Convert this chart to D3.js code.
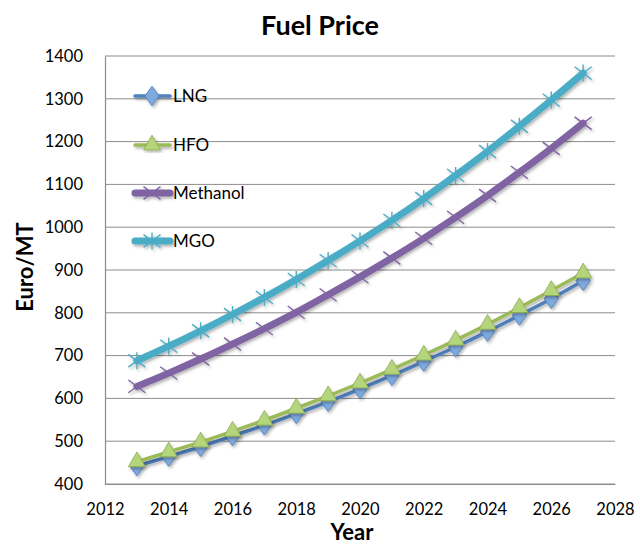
<!DOCTYPE html>
<html>
<head>
<meta charset="utf-8">
<script src="https://d3js.org/d3.v7.min.js"></script>
<title>Fuel Price</title>
<style>
  body { margin: 0; background: #fff; }
  text { font-family: Lato, "Open Sans", sans-serif; fill: #000; }
</style>
</head>
<body>
<div id="chart"></div>
<script type="text/javascript">

// data
var years = [2013, 2014, 2015, 2016, 2017, 2018, 2019, 2020, 2021, 2022, 2023, 2024, 2025, 2026, 2027];
var lng      = [442, 464, 487, 512, 537, 564, 592, 622, 653, 686, 720, 756, 794, 833, 875];
var hfo      = [452, 475, 498, 523, 549, 577, 606, 636, 668, 701, 736, 773, 812, 852, 893];
var methanol = [628, 659, 692, 727, 763, 801, 842, 884, 928, 974, 1023, 1074, 1128, 1184, 1243];
var mgo      = [688, 722, 758, 796, 836, 878, 922, 968, 1016, 1067, 1121, 1177, 1236, 1297, 1360];
var seriesNames = ["LNG", "HFO", "Methanol", "MGO"];
var xTicks = [2012, 2014, 2016, 2018, 2020, 2022, 2024, 2026, 2028];
var yTicks = [400, 500, 600, 700, 800, 900, 1000, 1100, 1200, 1300, 1400];

var width = 640, height = 545;
var plotLeft = 105, plotRight = 615, plotTop = 56, plotBottom = 484;

var series = [
  {name: "LNG", values: lng, color: "#4f81bd", fill: "#7ea9de", width: 3.5, marker: "diamond"},
  {name: "HFO", values: hfo, color: "#9bbb59", fill: "#b5d57c", width: 3.5, marker: "triangle"},
  {name: "Methanol", values: methanol, color: "#8064a2", fill: "#8064a2", width: 7, marker: "x"},
  {name: "MGO", values: mgo, color: "#4bacc6", fill: "#4bacc6", width: 7, marker: "star"}
];

var x = d3.scaleLinear().domain([2012, 2028]).range([plotLeft, plotRight]);
var y = d3.scaleLinear().domain([400, 1400]).range([plotBottom, plotTop]);

var svg = d3.select("#chart").append("svg")
  .attr("width", width)
  .attr("height", height);

var defs = svg.append("defs");
var f = defs.append("filter").attr("id", "shadow")
  .attr("x", "-20%").attr("y", "-20%").attr("width", "140%").attr("height", "140%");
f.append("feDropShadow").attr("dx", 1.5).attr("dy", 2).attr("stdDeviation", 1.5)
  .attr("flood-color", "#000").attr("flood-opacity", 0.3);

// gridlines
svg.append("g").selectAll("line")
  .data(yTicks).enter().append("line")
  .attr("x1", plotLeft).attr("x2", plotRight)
  .attr("y1", function(d){ return y(d); })
  .attr("y2", function(d){ return y(d); })
  .attr("stroke", "#8c8c8c").attr("stroke-width", 1);

// axes
var xAxis = svg.append("g")
  .attr("transform", "translate(0," + plotBottom + ")")
  .call(d3.axisBottom(x).tickValues(xTicks).tickFormat(d3.format("d")).tickSize(0).tickPadding(19));
var yAxis = svg.append("g")
  .attr("transform", "translate(" + plotLeft + ",0)")
  .call(d3.axisLeft(y).tickValues(yTicks).tickFormat(d3.format("d")).tickSize(0).tickPadding(22));
[xAxis, yAxis].forEach(function(a){
  a.select(".domain").attr("stroke", "#8c8c8c").attr("stroke-width", 1.2);
  a.selectAll("text").attr("font-size", 16.5).attr("font-family", "Lato, sans-serif").attr("fill", "#000");
});

// titles
svg.append("text").attr("x", 320).attr("y", 35).attr("text-anchor", "middle")
  .attr("font-size", 27).attr("font-weight", "bold").text("Fuel Price");
svg.append("text").attr("x", 352).attr("y", 540).attr("text-anchor", "middle")
  .attr("font-size", 22).attr("font-weight", "bold").text("Year");
svg.append("text").attr("transform", "translate(33,267) rotate(-90)").attr("text-anchor", "middle")
  .attr("font-size", 22).attr("font-weight", "bold").text("Euro/MT");

function drawMarker(g, s, cx, cy) {
  if (s.marker === "diamond") {
    g.append("path").attr("d", d3.symbol().type(d3.symbolDiamond).size(110)())
      .attr("transform", "translate(" + cx + "," + cy + ") scale(1.25,1)")
      .attr("fill", s.fill).attr("stroke", s.color).attr("stroke-width", 0.8);
  } else if (s.marker === "triangle") {
    g.append("path").attr("d", d3.symbol().type(d3.symbolTriangle).size(125)())
      .attr("transform", "translate(" + cx + "," + cy + ")")
      .attr("fill", s.fill).attr("stroke", "#8aa94b").attr("stroke-width", 0.8);
  } else {
    var r = 8.5;
    var p = "M" + (-r) + "," + (-r * 0.75) + "L" + r + "," + (r * 0.75) +
            "M" + (-r) + "," + (r * 0.75) + "L" + r + "," + (-r * 0.75);
    if (s.marker === "star") p += "M0," + (-r) + "L0," + r;
    g.append("path").attr("d", p)
      .attr("transform", "translate(" + cx + "," + cy + ")")
      .attr("fill", "none").attr("stroke", s.color).attr("stroke-width", 1.4);
  }
}

var line = d3.line()
  .x(function(d, i){ return x(years[i]); })
  .y(function(d){ return y(d); })
  .curve(d3.curveMonotoneX);

series.forEach(function(s){
  var g = svg.append("g").attr("filter", "url(#shadow)");
  g.append("path").datum(s.values)
    .attr("d", line)
    .attr("fill", "none")
    .attr("stroke", s.color)
    .attr("stroke-width", s.width)
    .attr("stroke-linecap", "round");
  s.values.forEach(function(v, i){
    drawMarker(g, s, x(years[i]), y(v));
  });
});

// legend
var legendY = [96, 145, 193, 241];
series.forEach(function(s, i){
  var g = svg.append("g").attr("filter", "url(#shadow)");
  g.append("line").attr("x1", 135).attr("x2", 170)
    .attr("y1", legendY[i]).attr("y2", legendY[i])
    .attr("stroke", s.color).attr("stroke-width", s.width)
    .attr("stroke-linecap", "round");
  drawMarker(g, s, 152, legendY[i]);
  svg.append("text").attr("x", 173).attr("y", legendY[i] + 6)
    .attr("font-size", 17).text(seriesNames[i]);
});

</script>
</body>
</html>
